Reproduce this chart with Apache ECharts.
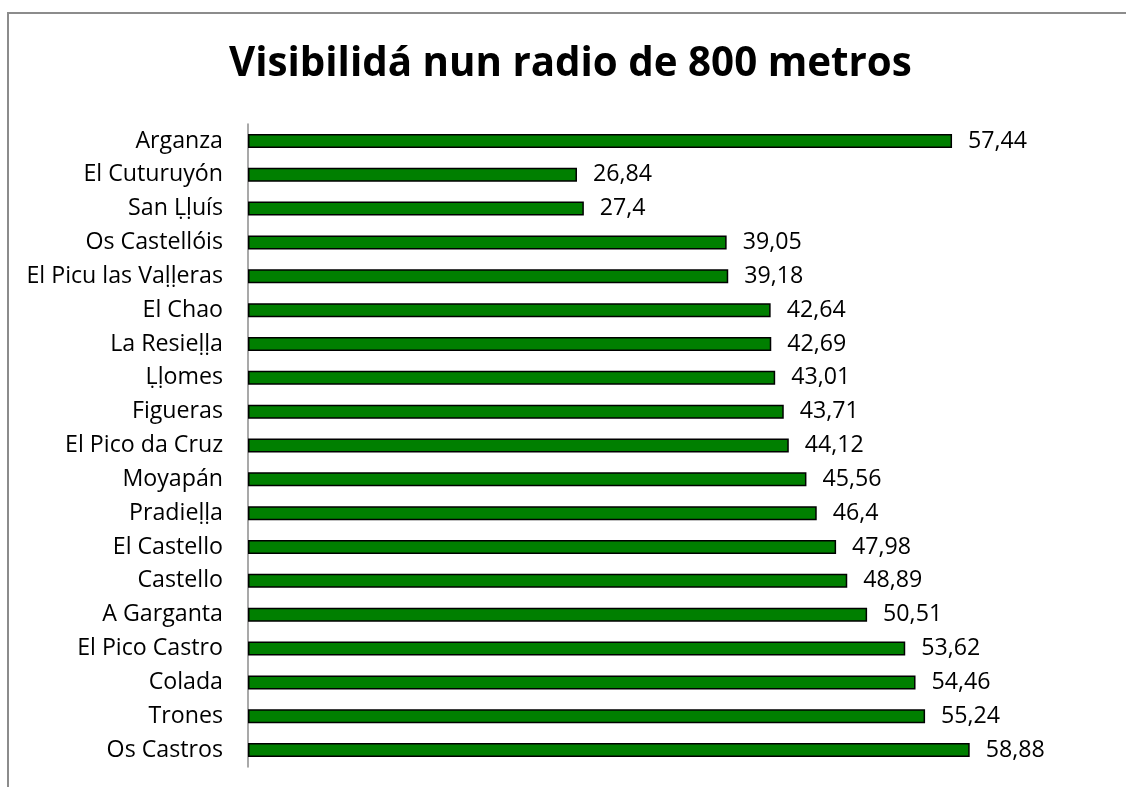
<!DOCTYPE html>
<html>
<head>
<meta charset="utf-8">
<script src="https://cdn.jsdelivr.net/npm/echarts@6/dist/echarts.min.js"></script>
<style>
  html, body { margin: 0; padding: 0; background: #fff; }
  #frame { position: absolute; left: 7px; top: 12px; width: 1130px; height: 800px;
           border-left: 2px solid #8c8c8c; border-top: 2px solid #8c8c8c; box-sizing: border-box; }
  #chart { position: absolute; left: 0; top: 0; width: 1126px; height: 787px; }
</style>
</head>
<body>
<div id="frame"></div>
<div id="chart"></div>
<script>
const titleText = 'Visibilidá nun radio de 800 metros';
const places = [
  'Arganza', 'El Cuturuyón', 'San \u1E36\u1E37uís', 'Os Castellóis', 'El Picu las Va\u1E37\u1E37eras',
  'El Chao', 'La Resie\u1E37\u1E37a', '\u1E36\u1E37omes', 'Figueras', 'El Pico da Cruz',
  'Moyapán', 'Pradie\u1E37\u1E37a', 'El Castello', 'Castello', 'A Garganta',
  'El Pico Castro', 'Colada', 'Trones', 'Os Castros'
];
const visibility = [
  57.44, 26.84, 27.4, 39.05, 39.18,
  42.64, 42.69, 43.01, 43.71, 44.12,
  45.56, 46.4, 47.98, 48.89, 50.51,
  53.62, 54.46, 55.24, 58.88
];

const textFont = '"Open Sans", sans-serif';
const chart = echarts.init(document.getElementById('chart'), null, { renderer: 'canvas' });
chart.setOption({
  animation: false,
  title: {
    text: titleText,
    left: 224,
    top: 40,
    textStyle: { fontFamily: textFont, fontSize: 40.3, fontWeight: 'bold', color: '#000' }
  },
  grid: { left: 248, right: 20, top: 124, bottom: 20, containLabel: false },
  xAxis: {
    type: 'value', min: 0, max: 70, show: false
  },
  yAxis: {
    type: 'category',
    data: places,
    inverse: true,
    axisLine: { show: true, lineStyle: { color: '#8c8c8c', width: 1.5 } },
    axisTick: { show: false },
    axisLabel: { color: '#000', fontFamily: textFont, fontSize: 23.2, margin: 25 }
  },
  series: [{
    type: 'bar',
    data: visibility,
    barWidth: 14,
    itemStyle: { color: '#007f00', borderColor: '#000', borderWidth: 1.5 },
    label: {
      show: true,
      position: 'right',
      distance: 16,
      color: '#000',
      fontFamily: textFont,
      fontSize: 23.2,
      formatter: p => String(p.value).replace('.', ',')
    }
  }]
});
</script>
</body>
</html>
